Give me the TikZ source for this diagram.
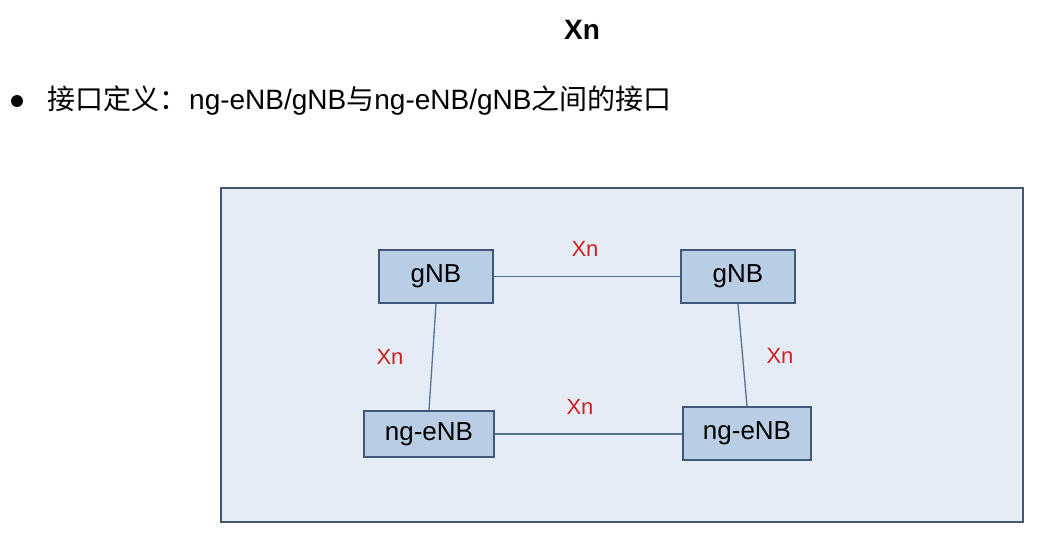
\documentclass[tikz,border=0pt]{standalone}
\usepackage{fontspec}
\setmainfont{Liberation Sans}
\newfontfamily\cjk{Noto Sans CJK SC}
\definecolor{outerfill}{RGB}{228,236,246}
\definecolor{outerdraw}{RGB}{70,86,110}
\definecolor{nodefill}{RGB}{185,205,229}
\definecolor{nodedraw}{RGB}{65,88,122}
\definecolor{linkcol}{RGB}{90,115,148}
\definecolor{xnred}{RGB}{210,32,32}
\begin{document}
\begin{tikzpicture}[x=1pt,y=-1pt,
  nebox/.style={draw=nodedraw,fill=nodefill,line width=2pt,inner sep=0pt,font=\fontsize{26}{30}\selectfont},
  link/.style={draw=linkcol,line width=1.3pt},
  xnlab/.style={text=xnred,font=\fontsize{22}{26}\selectfont,inner sep=0pt}]
\useasboundingbox (0,0) rectangle (1056,551);
\fill[white] (0,0) rectangle (1056,551);
% title
\node[font=\fontsize{28}{32}\selectfont\bfseries,inner sep=0pt] (title) at (582,30) {Xn};
% bullet
\fill[black] (17,101) circle (6);
\node[anchor=west,inner sep=0pt,font=\fontsize{28}{32}\selectfont] (bul) at (47,101)
  {{\cjk 接口定义：}\hspace{2pt}ng-eNB/gNB{\cjk 与}ng-eNB/gNB{\cjk 之间的接口}};
% outer box
\node[draw=outerdraw,fill=outerfill,line width=2pt,minimum width=802pt,minimum height=334pt,inner sep=0pt] (outer) at (622,355) {};
% network elements
\node[nebox,minimum width=114pt,minimum height=53pt] (gl) at (436,276.5) {gNB};
\node[nebox,minimum width=114pt,minimum height=53pt] (gr) at (738,276.5) {gNB};
\node[nebox,minimum width=130pt,minimum height=46pt] (el) at (429,434) {ng-eNB};
\node[nebox,minimum width=128pt,minimum height=53pt] (er) at (747,433.5) {ng-eNB};
% links
\draw[link] (gl.east) -- (gr.west);
\draw[link] (el.east) -- (el.east -| er.west);
\draw[link] (gl.south) -- (el.north);
\draw[link] (gr.south) -- (er.north);
% labels
\node[xnlab] (xt) at (585,249) {Xn};
\node[xnlab] (xl) at (390,357) {Xn};
\node[xnlab] (xr) at (780,356) {Xn};
\node[xnlab] (xb) at (580,407) {Xn};
\end{tikzpicture}
\end{document}
